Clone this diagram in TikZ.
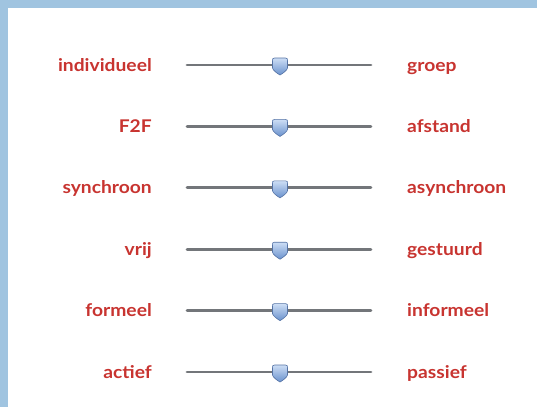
\documentclass[tikz,border=0pt]{standalone}
\usepackage{fontspec}
\setmainfont{Lato}[FakeStretch=1.1]
\definecolor{frame}{RGB}{160,196,224}
\definecolor{lbl}{RGB}{200,52,48}
\definecolor{track}{RGB}{115,118,122}
\definecolor{knobtop}{RGB}{205,222,245}
\definecolor{knobbot}{RGB}{105,145,205}
\definecolor{knobedge}{RGB}{85,115,165}
\tikzset{
  lefttxt/.style={anchor=base east, text=lbl, font=\bfseries\fontsize{17.5}{20}\selectfont, inner sep=0pt},
  righttxt/.style={anchor=base west, text=lbl, font=\bfseries\fontsize{17.5}{20}\selectfont, inner sep=0pt},
  trackline/.style={draw=track, line width=2.8pt, line cap=round},
  knob/.style={draw=knobedge, line width=0.6pt, top color=knobtop, bottom color=knobbot}
}
\begin{document}
\begin{tikzpicture}[x=1pt,y=-1pt]
\fill[frame] (0,0) rectangle (537,407);
\fill[white] (8,8) rectangle (537,407);
\useasboundingbox (0,0) rectangle (537,407);
\foreach \i/\l/\r/\y in {1/individueel/groep/65, 2/F2F/afstand/126.4, 3/synchroon/asynchroon/187.8, 4/vrij/gestuurd/249.2, 5/formeel/informeel/310.6, 6/actief/passief/372}{
  \node[lefttxt] (L\i) at (152,\y+6) {\l};
  \node[righttxt] (R\i) at (407,\y+6) {\r};
  \coordinate (A\i) at (187,\y);
  \coordinate (B\i) at (371,\y);
  \draw[trackline] (A\i) -- (B\i);
  \coordinate (K\i) at (280,\y);
  \draw[knob] ([shift={(-5.5,-7)}]K\i) -- ([shift={(5.5,-7)}]K\i)
     .. controls ([shift={(7.5,-7)}]K\i) and ([shift={(7.5,-6)}]K\i) .. ([shift={(7.5,-4)}]K\i)
     -- ([shift={(7.5,3)}]K\i)
     .. controls ([shift={(7.5,5)}]K\i) and ([shift={(2,9)}]K\i) .. ([shift={(0,10)}]K\i)
     .. controls ([shift={(-2,9)}]K\i) and ([shift={(-7.5,5)}]K\i) .. ([shift={(-7.5,3)}]K\i)
     -- ([shift={(-7.5,-4)}]K\i)
     .. controls ([shift={(-7.5,-6)}]K\i) and ([shift={(-7.5,-7)}]K\i) .. cycle;
}
\end{tikzpicture}
\end{document}
